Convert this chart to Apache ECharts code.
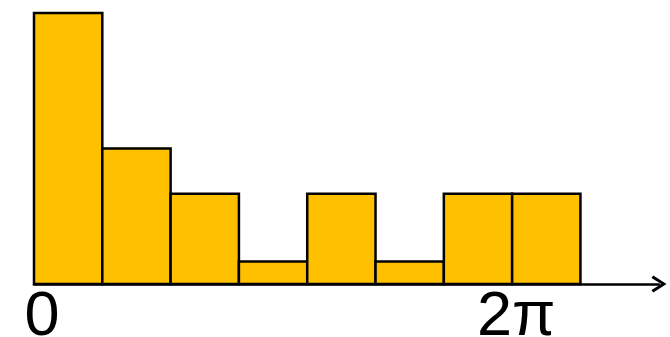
<!DOCTYPE html>
<html>
<head>
<meta charset="utf-8">
<script src="https://cdn.jsdelivr.net/npm/echarts@6/dist/echarts.min.js"></script>
<style>
  html, body { margin: 0; padding: 0; background: #fff; }
  #chart { width: 670px; height: 337px; }
</style>
</head>
<body>
<div id="chart"></div>
<script>
// Histogram bins (in bin-index units) and their counts
const binStarts = [0, 1, 2, 3, 4, 5, 6, 7];
const binWidth = 1;
const counts = [12, 6, 4, 1, 4, 1, 4, 4];

// Axis tick positions and their labels
const tickValues = [0, 7];
const tickLabels = ['{z|0}', '{t|2π}'];

const barData = binStarts.map((s, i) => [s, s + binWidth, counts[i]]);

// Open chevron used as the arrow head at the end of the x axis (points up in symbol space)
const chevron = 'path://M8.5,0 L17,13.2 L14.6,15 L8.5,5.2 L2.4,15 L0,13.2 Z';

const chart = echarts.init(document.getElementById('chart'));
chart.setOption({
  animation: false,
  grid: { left: 34, right: 11, top: 13, bottom: 53, containLabel: false, outerBoundsMode: 'none' },
  xAxis: {
    type: 'value',
    min: 0,
    max: 9.15,
    splitLine: { show: false },
    axisLine: {
      show: true,
      lineStyle: { color: '#000', width: 2.5 },
      symbol: ['none', chevron],
      symbolSize: [17, 15]
    },
    axisTick: { show: false },
    axisLabel: {
      customValues: tickValues,
      margin: 2,
      color: '#000',
      fontFamily: 'Liberation Sans',
      fontSize: 63,
      formatter: (v) => tickLabels[tickValues.indexOf(v)] || '',
      rich: {
        z: { fontFamily: 'Liberation Sans', fontSize: 63, color: '#000', padding: [0, 0, 0, 16] },
        t: { fontFamily: 'Liberation Sans', fontSize: 63, color: '#000', padding: [0, 0, 0, 8] }
      }
    }
  },
  yAxis: {
    type: 'value',
    min: 0,
    max: 12,
    show: false
  },
  series: [{
    type: 'custom',
    data: barData,
    encode: { x: [0, 1], y: 2 },
    renderItem: function (params, api) {
      const p0 = api.coord([api.value(0), api.value(2)]);
      const p1 = api.coord([api.value(1), 0]);
      return {
        type: 'rect',
        shape: { x: p0[0], y: p0[1], width: p1[0] - p0[0], height: p1[1] - p0[1] },
        style: { fill: '#FFC000', stroke: '#000', lineWidth: 2.5 }
      };
    }
  }]
});
</script>
</body>
</html>
